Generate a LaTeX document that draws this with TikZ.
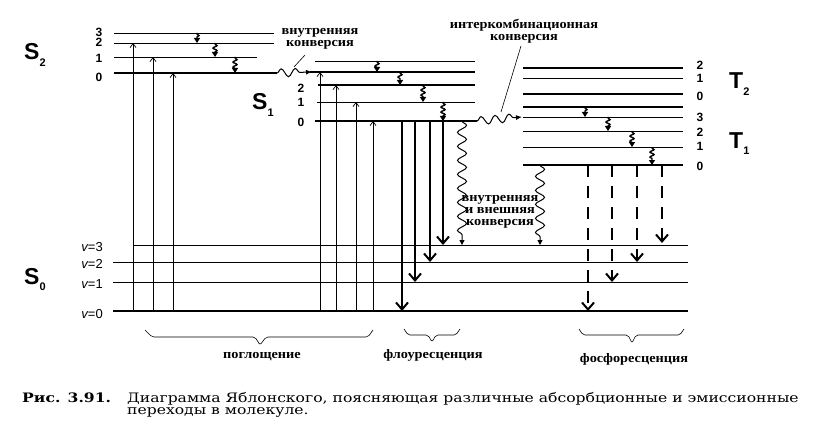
\documentclass[tikz,border=0pt]{standalone}
\usepackage{fontspec}
\setmainfont{Liberation Serif}
\newfontfamily\lsans{Liberation Sans}
\newfontfamily\rusb[FakeStretch=1.1]{Liberation Serif}
\newfontfamily\capf[FakeStretch=1.2]{DejaVu Serif}
\usetikzlibrary{arrows.meta,decorations.pathmorphing}
\begin{document}
\begin{tikzpicture}[x=1pt,y=-1pt,
  lv/.style={line width=0.7pt},
  lvm/.style={line width=1.2pt},
  lvt/.style={line width=2.2pt},
  absarr/.style={line width=0.7pt,-{Straight Barb[length=4pt,width=6pt]}},
  fluo/.style={line width=2.4pt,-{Straight Barb[length=7pt,width=12pt,line width=2pt]}},
  phos/.style={line width=2.6pt,dash pattern=on 12pt off 9pt,-{Straight Barb[length=7pt,width=12pt,line width=2pt]}},
  relax/.style={line width=1.4pt,decorate,decoration={snake,amplitude=2pt,segment length=5pt,pre length=1pt,post length=4pt},-{Triangle[length=5pt,width=6pt]}},
  wav/.style={line width=1pt,decorate,decoration={snake,amplitude=4.5pt,segment length=14pt,post length=5pt},-{Triangle[length=5pt,width=5pt]}},
  hwav/.style={line width=1pt,decorate,decoration={snake,amplitude=4pt,segment length=14pt,post length=7pt},-{Latex[length=6pt,width=5pt]}},
  brace/.style={line width=0.6pt,rounded corners=2pt},
  leader/.style={line width=0.6pt},
  num/.style={font=\lsans\bfseries\fontsize{12}{12}\selectfont,inner sep=0pt},
  vlab/.style={font=\lsans\fontsize{13}{13}\selectfont,inner sep=0pt,anchor=east},
  term/.style={font=\lsans\bfseries\fontsize{23}{23}\selectfont,inner sep=0pt,anchor=base west},
  rus/.style={font=\rusb\bfseries\fontsize{13}{12}\selectfont,align=center,inner sep=0pt},
  capt/.style={font=\capf\fontsize{13}{13}\selectfont,inner sep=0pt,anchor=base west}]
\useasboundingbox (0,0) rectangle (823,444);

% ---------- S2 levels
\draw[lv] (114,33) -- (274,33);
\draw[lv] (114,43) -- (274,43);
\draw[lv] (114,57) -- (257,57);
\draw[lvt] (114,73) -- (277,73);
% ---------- S1 levels
\draw[lv] (315,61) -- (475,61);
\draw[lvm] (310,72) -- (475,72);
\draw[lvm] (318,85) -- (475,85);
\draw[lv] (317,102) -- (475,102);
\draw[lvt] (315,121) -- (477,121);
% ---------- T2 / T1 levels
\draw[lvm] (523,68) -- (683,68);
\draw[lv] (523,78) -- (683,78);
\draw[lvt] (523,94) -- (683,94);
\draw[lvm] (523,107) -- (683,107);
\draw[lv] (523,117) -- (683,117);
\draw[lv] (523,131) -- (683,131);
\draw[lv] (523,147) -- (683,147);
\draw[lvt] (523,165) -- (683,165);
% ---------- S0 levels
\draw[lv] (133,245) -- (688,245);
\draw[lv] (113,262) -- (688,262);
\draw[lv] (113,282) -- (688,282);
\draw[line width=2.6pt] (113,311) -- (688,311);

% ---------- labels
\node[term] (s2) at (24,60) {S\raisebox{-0.3em}{\fontsize{11}{11}\selectfont 2}};
\node[term] (s1) at (252,110) {S\raisebox{-0.3em}{\fontsize{11}{11}\selectfont 1}};
\node[term] (s0) at (24,284) {S\raisebox{-0.3em}{\fontsize{11}{11}\selectfont 0}};
\node[term] (t2) at (729,89) {T\raisebox{-0.3em}{\fontsize{11}{11}\selectfont 2}};
\node[term] (t1) at (729,148) {T\raisebox{-0.3em}{\fontsize{11}{11}\selectfont 1}};

\node[num] (n23) at (99,32) {3};
\node[num] (n22) at (99,42.5) {2};
\node[num] (n21) at (99,58) {1};
\node[num] (n20) at (99,77) {0};
\node[num] (n12) at (301,88) {2};
\node[num] (n11) at (301,102) {1};
\node[num] (n10) at (301,122) {0};
\node[num] (nt22) at (700,65) {2};
\node[num] (nt21) at (700,78) {1};
\node[num] (nt20) at (700,96) {0};
\node[num] (nt13) at (700,117) {3};
\node[num] (nt12) at (700,132) {2};
\node[num] (nt11) at (700,146) {1};
\node[num] (nt10) at (700,166) {0};

\node[vlab] (v3) at (103,247) {{\itshape v}=3};
\node[vlab] (v2) at (103,264) {{\itshape v}=2};
\node[vlab] (v1) at (103,284) {{\itshape v}=1};
\node[vlab] (v0) at (103,314) {{\itshape v}=0};

% ---------- absorption
\foreach \x/\y in {133/43,153/57,173/73,320/72,336/85,356/102,373/121}
  \draw[absarr] (\x,311) -- (\x,\y);

% ---------- vibrational relaxation
\foreach \x/\a/\b in {197/33/43,215/43/57,235/57/73,377/61/72,400/72/85,423/85/102,443/102/121,585/107/117,608/117/131,632/131/147,652/147/165}
  \draw[relax] (\x,\a) -- (\x,\b);

% ---------- internal conversion S2 -> S1 and intersystem crossing
\coordinate (ic1) at (277,73);
\coordinate (ic2) at (312,72);
\draw[hwav] (ic1) -- (ic2);
\coordinate (isc1) at (477,121);
\coordinate (isc2) at (522,117);
\draw[hwav] (isc1) -- (isc2);

% ---------- fluorescence
\foreach \x/\y in {402/311,415/282,430/262,443/245}
  \draw[fluo] (\x,121) -- (\x,\y);
% ---------- phosphorescence
\foreach \x/\y in {588/311,612/282,637/262,662/243}
  \draw[phos] (\x,165) -- (\x,\y);

% ---------- internal/external conversion
\draw[wav] (462,121) -- (462,245);
\draw[wav] (540,165) -- (540,245);

% ---------- texts
\node[rus] (lic) at (320,39) {внутренняя\\конверсия};
\node[rus] (lisc) at (524,31) {интеркомбинационная\\конверсия};
\node[rus] (lext) at (500,212) {внутренняя\\и внешняя\\конверсия};
\coordinate (l1a) at (305,55); \coordinate (l1b) at (294,67);
\draw[leader] (l1a) -- (l1b);
\coordinate (l2a) at (521,46); \coordinate (l2b) at (501,112);
\draw[leader] (l2a) -- (l2b);

% ---------- braces
\draw[brace] (145,330) -- (152,337) -- (255,337) -- (260,345) -- (266,337) -- (368,337) -- (373,330);
\draw[brace] (404,329) -- (408,335) -- (428,335) -- (432,342) -- (436,335) -- (456,335) -- (460,329);
\draw[brace] (579,329) -- (583,335) -- (628,335) -- (632,343) -- (636,335) -- (680,335) -- (684,329);
\node[rus] (labs) at (262,357) {поглощение};
\node[rus] (lfl) at (433,355) {флоуресценция};
\node[rus] (lph) at (634,359) {фосфоресценция};

% ---------- caption
\node[capt] (cap0) at (22,402) {\bfseries Рис. 3.91.};
\node[capt] (cap1) at (127,402) {Диаграмма Яблонского, поясняющая различные абсорбционные и эмиссионные};
\node[capt] (cap2) at (127,414) {переходы в молекуле.};
\end{tikzpicture}
\end{document}
